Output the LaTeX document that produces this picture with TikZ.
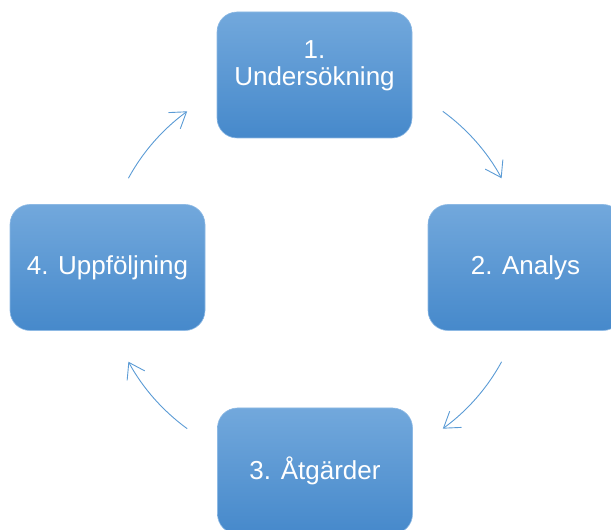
\documentclass[tikz,border=0pt]{standalone}
\usepackage{fontspec}
\setmainfont{Liberation Sans}
\usetikzlibrary{arrows.meta}
\definecolor{CycleTop}{HTML}{72A8DC}
\definecolor{CycleBottom}{HTML}{4689CB}
\definecolor{CycleEdge}{HTML}{8DB9E4}
\definecolor{CycleArrow}{HTML}{5B9BD5}

\begin{document}
\begin{tikzpicture}[x=1pt, y=1pt, every node/.style={font=\fontsize{26}{27}\selectfont},
    stepbox/.style={rounded corners=20pt, minimum width=195pt, minimum height=126pt, inner sep=0pt,
        top color=CycleTop, bottom color=CycleBottom, draw=CycleEdge, line width=0.6pt,
        text=white, align=center},
    cyclearrow/.style={draw=CycleArrow, line width=0.9pt, -{Straight Barb[length=15pt, width=20pt]}}]
    \useasboundingbox (0,0) rectangle (611,530);
    \clip (0,0) rectangle (611,530);

    % Steps
    \node[stepbox, text depth=23pt] (n1) at (314.5,455) {1.\\Undersökning};
    \node[stepbox] (n2) at (525.5,262.5) {2. Analys};
    \node[stepbox] (n3) at (315,59) {3. Åtgärder};
    \node[stepbox] (n4) at (107.5,262.5) {4. Uppföljning};

    % Arrows
    \coordinate (hub) at (315,260);
    \draw[cyclearrow] ([shift={(52.5:210pt and 200pt)}]hub) arc[start angle=52.5, end angle=27.3, x radius=210pt, y radius=200pt];
    \draw[cyclearrow] ([shift={(-27.3:210pt and 200pt)}]hub) arc[start angle=-27.3, end angle=-52.5, x radius=210pt, y radius=200pt];
    \draw[cyclearrow] ([shift={(232.5:210pt and 200pt)}]hub) arc[start angle=232.5, end angle=207.3, x radius=210pt, y radius=200pt];
    \draw[cyclearrow] ([shift={(152.7:210pt and 200pt)}]hub) arc[start angle=152.7, end angle=127.5, x radius=210pt, y radius=200pt];
\end{tikzpicture}
\end{document}
